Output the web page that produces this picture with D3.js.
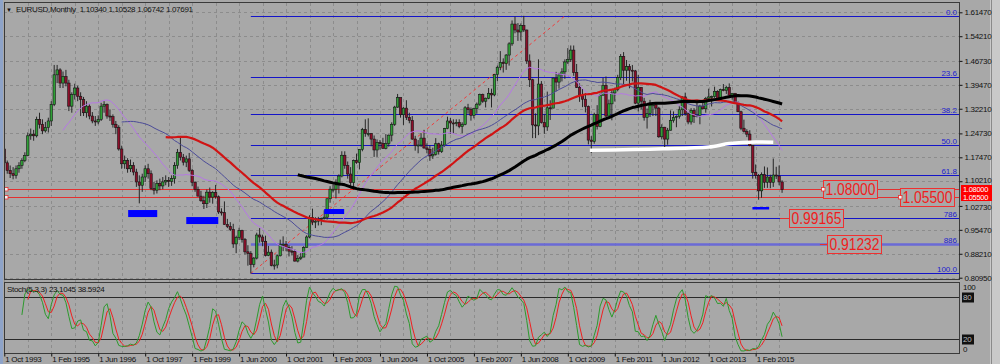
<!DOCTYPE html>
<html>
<head>
<meta charset="utf-8">
<script src="https://cdn.jsdelivr.net/npm/d3@7"></script>
<style>
html, body { margin: 0; padding: 0; background: #a8a8a8; overflow: hidden; }
svg { display: block; font-family: "Liberation Sans", Arial, sans-serif; }
</style>
</head>
<body>
<div id="chart"></div>
<script>

/**************************************************
 *  DATA  (EURUSD monthly, Oct 1993 - Nov 2015)
 **************************************************/

var firstOpen = 1.200;

var closes = [
	1.158,1.135,1.125,
	1.120,1.140,1.150,1.165,1.180,1.240,1.245,1.240,1.290,1.275,1.255,1.265,
	1.285,1.335,1.425,1.440,1.400,1.420,1.400,1.330,1.365,1.385,1.360,1.350,
	1.310,1.330,1.300,1.285,1.282,1.290,1.330,1.335,1.300,1.298,1.275,1.265,
	1.200,1.155,1.165,1.140,1.150,1.130,1.100,1.090,1.115,1.140,1.125,1.080,
	1.075,1.095,1.088,1.100,1.105,1.102,1.110,1.150,1.190,1.175,1.160,1.170,
	1.135,1.099,1.077,1.057,1.043,1.034,1.069,1.054,1.068,1.055,1.009,1.007,
	0.971,0.965,0.956,0.912,0.932,0.953,0.925,0.888,0.883,0.850,0.869,0.939,
	0.933,0.920,0.877,0.887,0.846,0.848,0.876,0.911,0.911,0.901,0.890,0.889,
	0.860,0.868,0.872,0.901,0.933,0.992,0.978,0.981,0.987,0.989,0.993,1.049,
	1.078,1.078,1.091,1.118,1.181,1.150,1.124,1.098,1.165,1.159,1.199,1.259,
	1.247,1.247,1.230,1.197,1.220,1.217,1.202,1.217,1.242,1.275,1.327,1.356,
	1.304,1.324,1.296,1.287,1.230,1.210,1.212,1.233,1.203,1.199,1.179,1.184,
	1.216,1.192,1.212,1.262,1.285,1.279,1.277,1.281,1.268,1.275,1.325,1.320,
	1.302,1.323,1.336,1.365,1.345,1.354,1.369,1.364,1.426,1.448,1.463,1.459,
	1.485,1.519,1.579,1.561,1.555,1.575,1.561,1.467,1.410,1.273,1.270,1.397,
	1.280,1.267,1.325,1.324,1.415,1.403,1.425,1.434,1.464,1.472,1.500,1.432,
	1.387,1.363,1.351,1.329,1.227,1.223,1.305,1.268,1.363,1.393,1.300,1.337,
	1.370,1.381,1.417,1.481,1.439,1.450,1.439,1.437,1.339,1.387,1.345,1.296,
	1.308,1.333,1.334,1.324,1.237,1.266,1.230,1.257,1.286,1.296,1.299,1.319,
	1.358,1.307,1.282,1.317,1.299,1.301,1.330,1.322,1.353,1.358,1.359,1.375,
	1.349,1.380,1.377,1.387,1.363,1.369,1.339,1.313,1.263,1.253,1.245,1.210,
	1.129,1.120,1.073,1.122,1.099,1.115,1.099,1.121,1.118,1.100,1.077
];

var highs = [
	1.228,1.165,1.150,
	1.145,1.150,1.160,1.172,1.190,1.250,1.262,1.258,1.298,1.310,1.290,1.282,
	1.295,1.345,1.455,1.455,1.445,1.435,1.440,1.410,1.372,1.398,1.392,1.372,
	1.358,1.345,1.335,1.312,1.300,1.302,1.340,1.345,1.338,1.320,1.305,1.285,
	1.272,1.210,1.180,1.172,1.168,1.160,1.140,1.120,1.125,1.150,1.155,1.135,
	1.100,1.105,1.110,1.115,1.120,1.115,1.120,1.160,1.200,1.235,1.185,1.180,
	1.188,1.140,1.102,1.086,1.073,1.058,1.077,1.083,1.072,1.091,1.059,1.020,
	1.041,0.988,0.978,0.973,0.937,0.961,0.955,0.930,0.908,0.890,0.872,0.946,
	0.960,0.940,0.937,0.906,0.895,0.864,0.880,0.925,0.935,0.921,0.908,0.905,
	0.895,0.878,0.884,0.905,0.938,0.999,1.019,0.993,0.994,0.992,1.014,1.050,
	1.087,1.093,1.108,1.123,1.193,1.193,1.162,1.145,1.168,1.186,1.200,1.264,
	1.290,1.293,1.248,1.241,1.229,1.227,1.234,1.245,1.244,1.281,1.331,1.367,
	1.356,1.327,1.348,1.310,1.300,1.240,1.227,1.248,1.258,1.217,1.211,1.204,
	1.233,1.219,1.224,1.264,1.298,1.294,1.290,1.290,1.290,1.281,1.330,1.337,
	1.326,1.325,1.341,1.368,1.368,1.356,1.385,1.383,1.427,1.453,1.497,1.475,
	1.488,1.524,1.590,1.602,1.582,1.581,1.604,1.562,1.487,1.413,1.308,1.472,
	1.406,1.305,1.374,1.348,1.417,1.434,1.431,1.445,1.472,1.506,1.514,1.514,
	1.458,1.399,1.382,1.369,1.332,1.239,1.310,1.333,1.368,1.416,1.420,1.350,
	1.379,1.386,1.425,1.488,1.494,1.470,1.458,1.455,1.440,1.425,1.387,1.355,
	1.323,1.349,1.339,1.338,1.328,1.275,1.267,1.264,1.317,1.314,1.302,1.331,
	1.360,1.371,1.312,1.324,1.324,1.342,1.334,1.345,1.358,1.383,1.362,1.389,
	1.378,1.383,1.397,1.391,1.399,1.370,1.370,1.344,1.316,1.289,1.260,1.257,
	1.211,1.153,1.124,1.129,1.147,1.144,1.122,1.171,1.146,1.150,1.105
];

var lows = [
	1.150,1.125,1.112,
	1.108,1.110,1.128,1.140,1.160,1.178,1.228,1.225,1.235,1.262,1.245,1.250,
	1.250,1.270,1.330,1.400,1.385,1.385,1.390,1.315,1.310,1.350,1.345,1.300,
	1.300,1.295,1.290,1.278,1.270,1.275,1.285,1.310,1.292,1.285,1.265,1.245,
	1.195,1.140,1.140,1.128,1.130,1.120,1.085,1.035,1.070,1.100,1.110,1.075,
	1.062,1.065,1.075,1.078,1.090,1.085,1.088,1.095,1.140,1.165,1.150,1.145,
	1.130,1.087,1.070,1.056,1.040,1.018,1.021,1.037,1.034,1.049,1.003,0.998,
	0.970,0.960,0.951,0.900,0.884,0.924,0.916,0.880,0.846,0.8225,0.841,0.865,
	0.916,0.905,0.874,0.875,0.844,0.834,0.838,0.874,0.890,0.890,0.874,0.877,
	0.858,0.856,0.863,0.872,0.901,0.929,0.969,0.960,0.968,0.969,0.986,0.986,
	1.037,1.068,1.050,1.065,1.114,1.140,1.110,1.088,1.077,1.155,1.138,1.193,
	1.237,1.238,1.208,1.176,1.176,1.198,1.201,1.199,1.207,1.223,1.270,1.325,
	1.295,1.273,1.288,1.278,1.228,1.195,1.187,1.206,1.201,1.187,1.164,1.170,
	1.180,1.183,1.188,1.207,1.260,1.246,1.247,1.269,1.263,1.248,1.272,1.307,
	1.286,1.293,1.307,1.331,1.340,1.326,1.351,1.326,1.360,1.406,1.439,1.432,
	1.440,1.453,1.513,1.551,1.528,1.529,1.555,1.458,1.388,1.233,1.233,1.242,
	1.277,1.246,1.255,1.288,1.324,1.375,1.383,1.405,1.413,1.458,1.464,1.422,
	1.385,1.343,1.327,1.311,1.214,1.188,1.216,1.259,1.266,1.363,1.297,1.300,
	1.287,1.344,1.375,1.409,1.397,1.407,1.384,1.405,1.336,1.314,1.320,1.286,
	1.262,1.297,1.300,1.300,1.234,1.229,1.204,1.213,1.256,1.280,1.266,1.292,
	1.300,1.301,1.275,1.274,1.279,1.296,1.275,1.320,1.310,1.349,1.329,1.355,
	1.348,1.348,1.375,1.367,1.359,1.350,1.337,1.312,1.257,1.250,1.236,1.208,
	1.110,1.110,1.046,1.052,1.082,1.082,1.081,1.085,1.109,1.090,1.067
];

// time axis labels, one every 16 bars
var dateLabels = ["1 Oct 1993","1 Feb 1995","1 Jun 1996","1 Oct 1997","1 Feb 1999",
	"1 Jun 2000","1 Oct 2001","1 Feb 2003","1 Jun 2004","1 Oct 2005","1 Feb 2007",
	"1 Jun 2008","1 Oct 2009","1 Feb 2011","1 Jun 2012","1 Oct 2013","1 Feb 2015"];

// price axis labels
var priceTicks = [1.61470,1.54210,1.46730,1.39470,1.32210,1.24730,1.17470,
	1.10210,1.02730,0.95470,0.88210,0.80950];

// moving average periods
var maPeriods = [20, 40, 55, 100];

// fibonacci retracement (Oct 2000 low -> 2008 high)
var fibLow = 0.8225, fibHigh = 1.6038, fibStartBar = 84, fibEndBar = 191;
var fibLevels = [0, 23.6, 38.2, 50, 61.8, 78.6, 88.6, 100];
var fibNames  = ["0.0","23.6","38.2","50.0","61.8","786","886","100.0"];

// horizontal price lines
var hLines = [1.08000, 1.05500];

// text price notes: text, price, bar at left edge, connector start bar
var noteText  = ["1.08000","1.05500","0.99165","0.91232"];
var notePrice = [1.08000, 1.05500, 0.99165, 0.91232];
var noteBar   = [278.9, 305.2, 267.4, 280.3];
var noteFrom  = [null, null, 264.3, 277.9];

// blue support rectangles [bar0, bar1, priceTop, priceBottom]
var zones = [
	[42.2, 52.1, 1.0148, 0.9935],
	[62.0, 72.9, 0.9935, 0.9723],
	[109.0, 115.8, 1.0179, 1.0027],
	[254.9, 260.6, 1.0240, 1.0164]
];

// white neckline [bar, price]
var neck = [[199.5,1.196],[224.5,1.2005],[240,1.206],[247,1.2165],[256,1.2215],[262,1.2205]];

var header = "EURUSD,Monthly  1.10340 1.10528 1.06742 1.07691";
var stochText = "Stoch(5,3,3) 23.1045 38.5924";


/**************************************************
 *  LAYOUT
 **************************************************/

var W = 1000, H = 364,
	left = 4, right = 960,
	mainTop = 3, mainBot = 280,
	stTop = 282, stBot = 353,
	barStep = 2.935,
	bg = "#a8a8a8", gridCol = "#8c8c8c";

var bars = closes.map(function (c, i) {
	var o = i ? closes[i - 1] : firstOpen;
	return { i: i, o: o, h: Math.max(highs[i], o, c), l: Math.min(lows[i], o, c), c: c };
});

var x = d3.scaleLinear().domain([0, bars.length - 1])
	.range([4.3, 4.3 + (bars.length - 1) * barStep]);
var y = d3.scaleLinear().domain([0.8095, 1.6147]).range([277.7, 12.3]);
var ys = d3.scaleLinear().domain([0, 100]).range([stBot, stTop + 1]);

var svg = d3.select('#chart').append('svg')
	.attr('width', W).attr('height', H);

svg.append('rect').attr('width', W).attr('height', H).attr('fill', bg);
// window frame bits
svg.append('rect').attr('x', 0).attr('y', 0).attr('width', 3).attr('height', H).attr('fill', '#8ea3c8');
svg.append('rect').attr('x', 990).attr('y', 0).attr('width', 10).attr('height', H).attr('fill', '#c9c9c9');
svg.append('line').attr('x1', 991.5).attr('x2', 991.5).attr('y1', 0).attr('y2', H).attr('stroke', '#8a8a8a');

var defs = svg.append('defs');
defs.append('clipPath').attr('id', 'clipMain').append('rect')
	.attr('x', left).attr('y', mainTop).attr('width', right - left).attr('height', mainBot - mainTop);
defs.append('clipPath').attr('id', 'clipSt').append('rect')
	.attr('x', left).attr('y', stTop).attr('width', right - left).attr('height', stBot - stTop);


//************ GRID ************

var vGrid = d3.range(0, bars.length, 8);
svg.append('g').selectAll('line').data(vGrid).enter().append('line')
	.attr('x1', function (d) { return Math.round(x(d)) + 0.5; })
	.attr('x2', function (d) { return Math.round(x(d)) + 0.5; })
	.attr('y1', mainTop).attr('y2', stBot)
	.attr('stroke', gridCol).attr('stroke-dasharray', '3,3');

svg.append('g').selectAll('line').data(priceTicks).enter().append('line')
	.attr('x1', left).attr('x2', right)
	.attr('y1', function (d) { return Math.round(y(d)) + 0.5; })
	.attr('y2', function (d) { return Math.round(y(d)) + 0.5; })
	.attr('stroke', gridCol).attr('stroke-dasharray', '3,3');


//************ MAIN PANEL ************

var main = svg.append('g').attr('clip-path', 'url(#clipMain)');

// fibonacci levels
var fibG = main.append('g');
fibLevels.forEach(function (lv, k) {
	var p = fibHigh - lv / 100 * (fibHigh - fibLow);
	var thick = (fibNames[k] === "886");
	fibG.append('line')
		.attr('x1', x(fibStartBar)).attr('x2', right)
		.attr('y1', Math.round(y(p)) + 0.5).attr('y2', Math.round(y(p)) + 0.5)
		.attr('stroke', thick ? '#6a6ad6' : '#1414c8')
		.attr('stroke-width', thick ? 2.5 : 1);
	fibG.append('text')
		.attr('x', right - 3).attr('y', Math.round(y(p)) - 1.5)
		.attr('text-anchor', 'end')
		.attr('font-size', 8).attr('fill', '#1c1cd0')
		.text(fibNames[k]);
});

// fib trend line
main.append('line')
	.attr('x1', x(fibStartBar)).attr('y1', y(fibLow))
	.attr('x2', x(fibEndBar)).attr('y2', y(fibHigh))
	.attr('stroke', '#f03c3c').attr('stroke-dasharray', '3,3');

// red horizontal lines
hLines.forEach(function (p) {
	main.append('line')
		.attr('x1', left).attr('x2', right)
		.attr('y1', Math.round(y(p)) + 0.5).attr('y2', Math.round(y(p)) + 0.5)
		.attr('stroke', '#e43030');
	main.append('rect')
		.attr('x', left + 0.5).attr('y', Math.round(y(p)) - 1.5)
		.attr('width', 3.5).attr('height', 3.5)
		.attr('fill', '#f4f4f4').attr('stroke', '#e43030').attr('stroke-width', 0.8);
});

// candles
var cg = main.append('g');
cg.selectAll('line').data(bars).enter().append('line')
	.attr('x1', function (d) { return x(d.i); })
	.attr('x2', function (d) { return x(d.i); })
	.attr('y1', function (d) { return y(d.h); })
	.attr('y2', function (d) { return y(d.l); })
	.attr('stroke', '#262626').attr('stroke-width', 1);
cg.selectAll('rect').data(bars).enter().append('rect')
	.attr('x', function (d) { return x(d.i) - 1.2; })
	.attr('y', function (d) { return y(Math.max(d.o, d.c)); })
	.attr('width', 2.4)
	.attr('height', function (d) { return Math.max(1, Math.abs(y(d.o) - y(d.c))); })
	.attr('fill', function (d) { return d.c >= d.o ? '#2f9e36' : '#8c0f2a'; })
	.attr('stroke', '#141414').attr('stroke-width', 0.6);

// moving averages
function sma(n) {
	return closes.map(function (c, i) {
		if (i < n) return null;
		return d3.mean(closes.slice(i - n + 1, i + 1));
	});
}
var maStyle = [
	{ col: '#b677e6', w: 1 },
	{ col: '#4b4b98', w: 1 },
	{ col: '#d01414', w: 2.2 },
	{ col: '#000000', w: 3 }
];
var line = d3.line()
	.defined(function (d) { return d !== null; })
	.x(function (d, i) { return x(i); })
	.y(function (d) { return y(d); });
maPeriods.forEach(function (n, k) {
	main.append('path').datum(sma(n))
		.attr('d', line)
		.attr('fill', 'none')
		.attr('stroke', maStyle[k].col)
		.attr('stroke-width', maStyle[k].w)
		.attr('stroke-linejoin', 'round');
});

// white neckline
main.append('path').datum(neck)
	.attr('d', d3.line().x(function (d) { return x(d[0]); }).y(function (d) { return y(d[1]); })
		.curve(d3.curveMonotoneX))
	.attr('fill', 'none').attr('stroke', '#ffffff').attr('stroke-width', 3.5);

// blue zones
main.append('g').selectAll('rect').data(zones).enter().append('rect')
	.attr('x', function (d) { return x(d[0]); })
	.attr('y', function (d) { return y(d[2]); })
	.attr('width', function (d) { return x(d[1]) - x(d[0]); })
	.attr('height', function (d) { return y(d[3]) - y(d[2]); })
	.attr('fill', '#0000ff');

// price notes
var noteTextW = 50;
noteText.forEach(function (t, k) {
	var cy = y(notePrice[k]), lx = x(noteBar[k]);
	var g = main.append('g');
	if (noteFrom[k] !== null) {
		g.append('line')
			.attr('x1', x(noteFrom[k])).attr('x2', lx)
			.attr('y1', Math.round(cy) + 0.5).attr('y2', Math.round(cy) + 0.5)
			.attr('stroke', '#e43030');
	}
	g.append('rect')
		.attr('x', Math.round(lx) + 0.5).attr('y', Math.round(cy - 9) + 0.5)
		.attr('width', noteTextW + 4).attr('height', 18).attr('fill', bg)
		.attr('stroke', '#f03030').attr('stroke-width', 1);
	g.append('text')
		.attr('x', Math.round(lx) + 2.5).attr('y', cy + 6.3)
		.attr('font-size', 17).attr('fill', '#f01c1c')
		.attr('textLength', noteTextW).attr('lengthAdjust', 'spacingAndGlyphs')
		.text(t);
	if (noteFrom[k] === null) {
		g.append('rect')
			.attr('x', Math.round(lx) - 1.5).attr('y', Math.round(cy) - 1.5)
			.attr('width', 3.5).attr('height', 3.5)
			.attr('fill', '#f4f4f4').attr('stroke', '#e43030').attr('stroke-width', 0.8);
	}
});


//************ STOCHASTIC ************

function stoch(kp, slow, dp) {
	var hh = [], ll = [];
	bars.forEach(function (b, i) {
		if (i < kp - 1) { hh.push(null); ll.push(null); return; }
		var sl = bars.slice(i - kp + 1, i + 1);
		hh.push(d3.max(sl, function (d) { return d.h; }));
		ll.push(d3.min(sl, function (d) { return d.l; }));
	});
	var k = bars.map(function (b, i) {
		if (i < kp - 1 + slow - 1) return null;
		var num = 0, den = 0;
		for (var j = i - slow + 1; j <= i; j++) { num += closes[j] - ll[j]; den += hh[j] - ll[j]; }
		return den ? 100 * num / den : 100;
	});
	var dd = k.map(function (v, i) {
		if (i < kp - 1 + slow - 1 + dp - 1) return null;
		return d3.mean(k.slice(i - dp + 1, i + 1));
	});
	return [k, dd];
}
var st = stoch(5, 3, 3);

var stG = svg.append('g').attr('clip-path', 'url(#clipSt)');
[80, 20].forEach(function (lv) {
	stG.append('line')
		.attr('x1', left).attr('x2', right)
		.attr('y1', Math.round(ys(lv)) + 0.5).attr('y2', Math.round(ys(lv)) + 0.5)
		.attr('stroke', '#2a2a2a');
});
var sline = d3.line()
	.defined(function (d) { return d !== null; })
	.x(function (d, i) { return x(i); })
	.y(function (d) { return ys(d); });
stG.append('path').datum(st[1]).attr('d', sline)
	.attr('fill', 'none').attr('stroke', '#f02020').attr('stroke-width', 1);
stG.append('path').datum(st[0]).attr('d', sline)
	.attr('fill', 'none').attr('stroke', '#2d9a2d').attr('stroke-width', 1);


//************ FRAMES ************

svg.append('rect').attr('x', left + 0.5).attr('y', mainTop - 0.5)
	.attr('width', right - left - 1).attr('height', mainBot - mainTop)
	.attr('fill', 'none').attr('stroke', '#3a3a3a');
svg.append('rect').attr('x', left + 0.5).attr('y', stTop + 0.5)
	.attr('width', right - left - 1).attr('height', stBot - stTop)
	.attr('fill', 'none').attr('stroke', '#3a3a3a');


//************ AXES ************

function styleAxis(g) {
	g.select('.domain').remove();
	g.selectAll('line').attr('stroke', '#111');
	g.selectAll('text').attr('fill', '#111').attr('font-size', 8)
		.attr('letter-spacing', '-0.3px')
		.attr('font-family', '"Liberation Sans", Arial, sans-serif');
}

var yAxis = d3.axisRight(y).tickValues(priceTicks).tickSize(3).tickPadding(2)
	.tickFormat(d3.format('.5f'));
var yAx = svg.append('g').attr('transform', 'translate(' + (right - 0.5) + ',0)')
	.call(yAxis).call(styleAxis);
// nudge the labels that sit next to the red price tags
yAx.selectAll('.tick text').attr('dy', function (d) {
	if (d === 1.10210) return '0.12em';
	if (d === 1.02730) return '0.45em';
	return '0.32em';
});

var tickIdx = dateLabels.map(function (d, i) { return i * 16; });
var xAxis = d3.axisBottom(x).tickValues(tickIdx).tickSize(3).tickPadding(1)
	.tickFormat(function (d, i) { return dateLabels[i]; });
svg.append('g').attr('transform', 'translate(0,' + (stBot + 0.5) + ')')
	.call(xAxis).call(styleAxis)
	.selectAll('text').attr('text-anchor', 'start').attr('dx', 0.5).attr('dy', '0.6em');

// stochastic scale labels
var sAxis = d3.axisRight(ys).tickValues([100, 80, 20, 0]).tickSize(0).tickPadding(3)
	.tickFormat(d3.format('d'));
var sAx = svg.append('g').attr('transform', 'translate(' + right + ',0)').call(sAxis).call(styleAxis);
sAx.selectAll('.tick').each(function (d) {
	var t = d3.select(this).select('text');
	if (d === 100) t.attr('dy', '0.85em');
	if (d === 0) t.attr('dy', '-0.15em');
	if (d === 80 || d === 20) {
		d3.select(this).insert('rect', 'text')
			.attr('x', 2).attr('y', -5).attr('width', 12).attr('height', 10).attr('fill', '#111');
		t.attr('fill', '#bdbdbd');
	}
});

// red price tags on the axis, stacked without overlap
var tagH = 8;
hLines.forEach(function (p, k) {
	var top = Math.round(y(hLines[0])) - 4 + k * tagH;
	svg.append('rect').attr('x', right + 1).attr('y', top)
		.attr('width', 31).attr('height', tagH).attr('fill', '#ff0000');
	svg.append('text').attr('x', right + 3).attr('y', top + 6.6)
		.attr('font-size', 7.5).attr('letter-spacing', '-0.3px').attr('fill', '#ffffff')
		.text(d3.format('.5f')(p));
});


//************ TEXTS ************

svg.append('text').attr('x', 6).attr('y', 11.5)
	.attr('font-size', 6).attr('fill', '#111').text('\u25BC');
svg.append('text').attr('x', 16).attr('y', 11.5)
	.attr('font-size', 8).attr('letter-spacing', '-0.3px').attr('fill', '#111')
	.attr('xml:space', 'preserve').style('white-space', 'pre')
	.text(header);
svg.append('text').attr('x', 7).attr('y', 292)
	.attr('font-size', 8).attr('letter-spacing', '-0.3px').attr('fill', '#111')
	.text(stochText);

</script>
</body>
</html>
